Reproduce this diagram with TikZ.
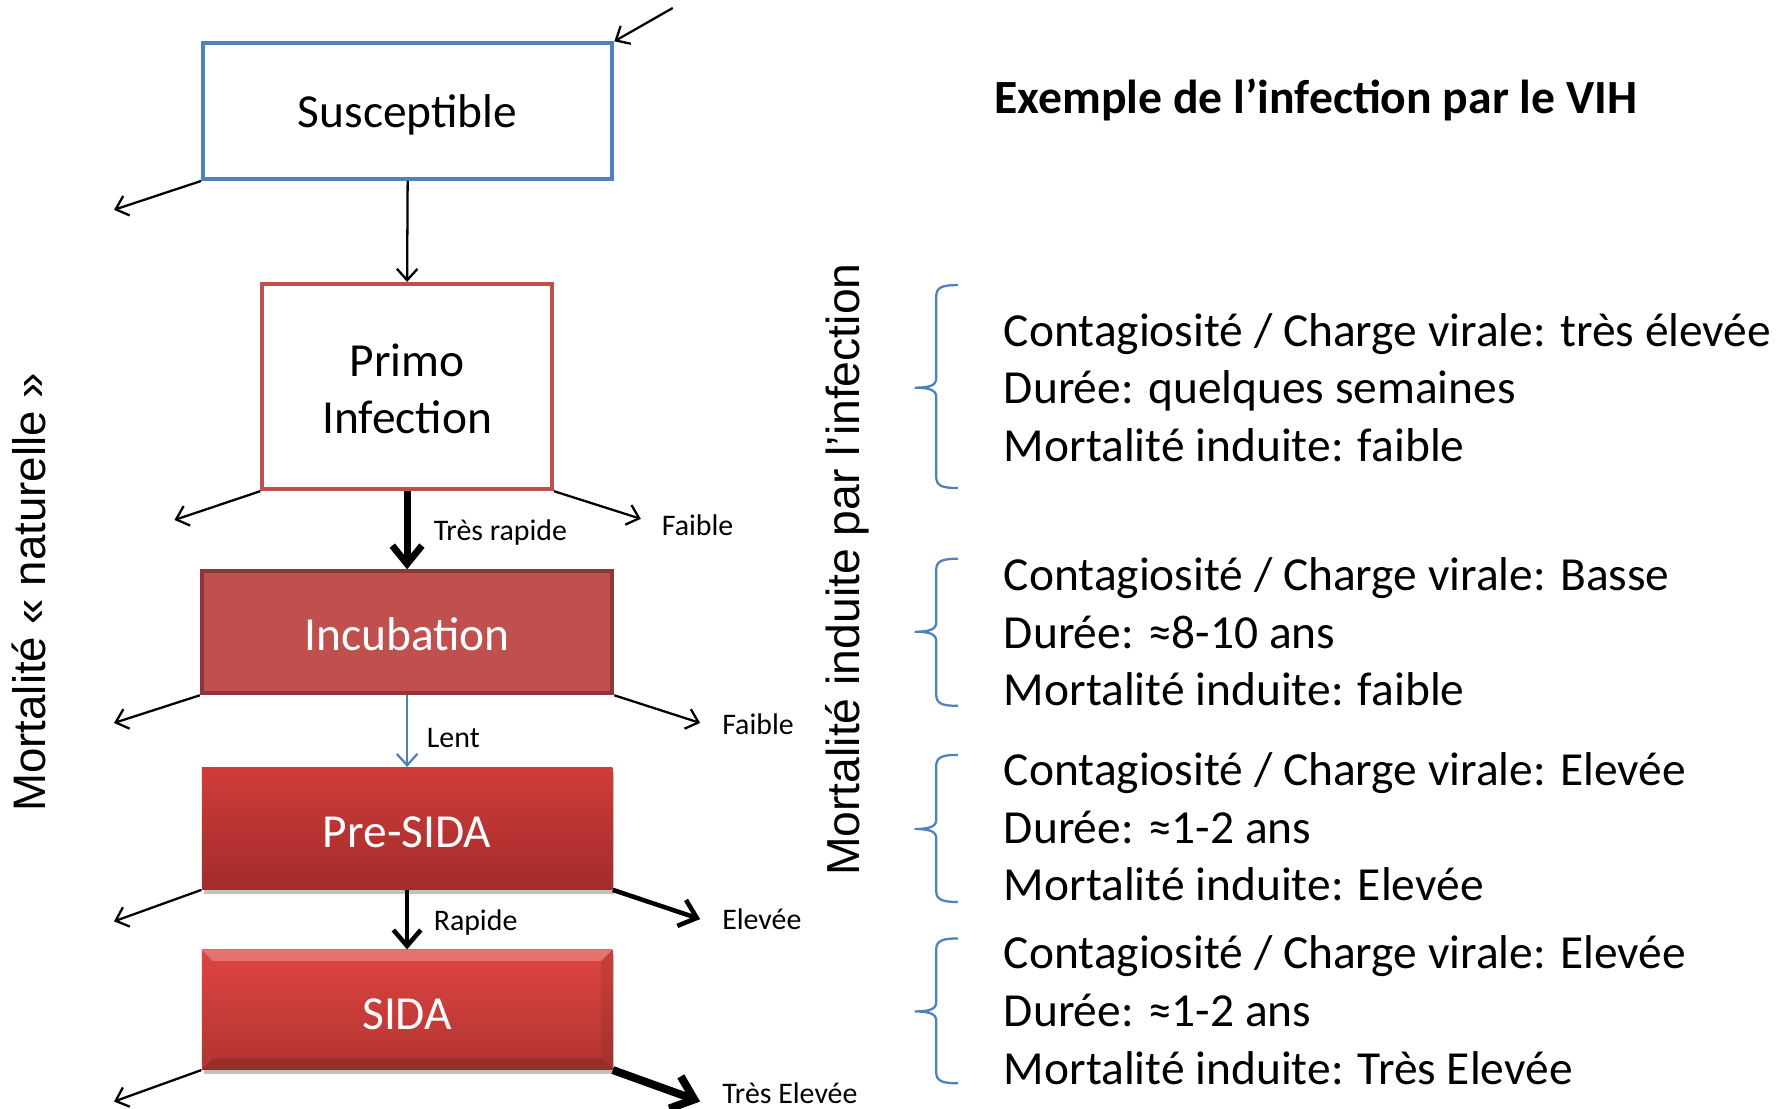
\documentclass[tikz,border=0pt]{standalone}
\usepackage{fontspec}
\setmainfont{Carlito}
\newfontfamily\sidefont{Liberation Sans}
\usetikzlibrary{arrows.meta,shadows}

\definecolor{boxblue}{HTML}{4F81BD}
\definecolor{boxred}{HTML}{C0504D}
\definecolor{incubedge}{HTML}{8C3836}
\definecolor{pretop}{HTML}{CF3D3A}
\definecolor{prebot}{HTML}{A32B2B}
\definecolor{sidatop}{HTML}{DD4541}
\definecolor{sidabot}{HTML}{B23431}

\begin{document}
\begin{tikzpicture}[x=0.5pt,y=-0.5pt,
  big/.style={font=\fontsize{20.8}{25.3}\selectfont},
  stage/.style={rectangle, inner sep=0pt},
  stagetext/.style={inner sep=0pt, align=center, big},
  lbl/.style={anchor=west, inner sep=0pt, font=\fontsize{13.1}{15}\selectfont},
  thinflow/.style={line width=1pt, -{Straight Barb[length=5pt,width=9pt]}},
  midflow/.style={line width=2pt, -{Straight Barb[length=7pt,width=12pt]}},
  heavyflow/.style={line width=3pt, -{Straight Barb[length=8pt,width=13pt]}},
  hugeflow/.style={line width=3.5pt, -{Straight Barb[length=9pt,width=15pt]}},
  curly/.style={draw=boxblue, line width=1pt},
  info/.style={anchor=west, inner sep=0pt, align=left, big},
  softshadow/.style={drop shadow={shadow xshift=0.8pt, shadow yshift=-2pt, opacity=0.35, fill=black!70}}
]
\useasboundingbox (0,0) rectangle (1568,972);

% compartments
\node[stage, draw=boxblue, line width=1.75pt, minimum width=179.5pt, minimum height=59.5pt]
  (sus) at (357.5,97.5) {};
\node[stage, draw=boxred, line width=1.75pt, minimum width=127pt, minimum height=90pt]
  (pri) at (357,339) {};
\node[stage, fill=boxred, draw=incubedge, line width=1.75pt, minimum width=180pt, minimum height=53.5pt]
  (inc) at (357,554.5) {};
\node[stage, softshadow, top color=pretop, bottom color=prebot, minimum width=180pt, minimum height=53.5pt]
  (pre) at (357,726.5) {};
\node[stage, softshadow, top color=sidatop, bottom color=sidabot, minimum width=180pt, minimum height=52.5pt]
  (sida) at (357,885.5) {};
% bevel edges of the last box
\fill[white, opacity=0.25] (sida.north west) -- (sida.north east) -- ([xshift=-5pt,yshift=-5pt]sida.north east) -- ([xshift=5pt,yshift=-5pt]sida.north west) -- cycle;
\fill[black, opacity=0.15] (sida.south west) -- (sida.south east) -- ([xshift=-5pt,yshift=5pt]sida.south east) -- ([xshift=5pt,yshift=5pt]sida.south west) -- cycle;
\fill[black, opacity=0.08] (sida.south east) -- (sida.north east) -- ([xshift=-5pt,yshift=-5pt]sida.north east) -- ([xshift=-5pt,yshift=5pt]sida.south east) -- cycle;

% compartment names
\node[stagetext] (sustxt) at ([yshift=-1.8pt]sus.center) {Susceptible};
\node[stagetext] (pritxt) at ([yshift=-1pt]pri.center) {Primo\\Infection};
\node[stagetext, text=white] (inctxt) at ([yshift=-1pt]inc.center) {Incubation};
\node[stagetext, text=white] (pretxt) at ([yshift=-1.5pt]pre.center) {Pre-SIDA};
\node[stagetext, text=white] (sidatxt) at ([yshift=-1.8pt]sida.center) {SIDA};

% free ends of the flows
\coordinate (inflow) at (590,7);
\coordinate (susout) at (100,184);
\coordinate (priout) at (153,456);
\coordinate (pridie) at (562,455);
\coordinate (incout) at (100,634);
\coordinate (incdie) at (614,634);
\coordinate (preout) at (100,808);
\coordinate (predie) at (614,806);
\coordinate (sidaout) at (100,966);
\coordinate (sidadie) at (614,966);

% flows
\draw[thinflow] (inflow) -- (sus.north east);
\draw[thinflow] (sus.south west) -- (susout);
\draw[thinflow] (sus.south) -- (pri.north);
\draw[thinflow] (pri.south west) -- (priout);
\draw[thinflow] (pri.south east) -- (pridie);
\draw[heavyflow] (pri.south) -- (inc.north);
\draw[thinflow] (inc.south west) -- (incout);
\draw[thinflow] (inc.south east) -- (incdie);
\draw[thinflow, draw=boxblue] (inc.south) -- (pre.north);
\draw[thinflow] (pre.south west) -- (preout);
\draw[midflow] (pre.south east) -- (predie);
\draw[midflow] (pre.south) -- (sida.north);
\draw[thinflow] (sida.south west) -- (sidaout);
\draw[hugeflow] (sida.south east) -- (sidadie);

% flow labels
\node[lbl] (l1) at (380,467) {Très rapide};
\node[lbl] (l2) at (580,461) {Faible};
\node[lbl] (l3) at (374,647) {Lent};
\node[lbl] (l4) at (633,635) {Faible};
\node[lbl] (l5) at (380,809) {Rapide};
\node[lbl] (l6) at (633,806) {Elevée};
\node[lbl] (l7) at (633,959) {Très Elevée};

% side titles
\node[rotate=90, inner sep=0pt, font=\sidefont\fontsize{20}{24}\selectfont] (natm) at (25,519.5) {Mortalité « naturelle »};
\node[rotate=90, inner sep=0pt, font=\sidefont\fontsize{20.3}{24}\selectfont] (infm) at (743,499.5) {Mortalité induite par l’infection};

% title
\node[font=\bfseries\fontsize{20.9}{25.3}\selectfont, inner sep=0pt] (title) at (1154,88) {Exemple de l’infection par le VIH};

% braces
\foreach \t/\m/\b in {250/340/428, 490/554/619, 662/727/791, 823/887/950}{
  \draw[curly] (840,\t) .. controls (826,\t) and (821,\t+2) .. (821,\t+10)
    -- (821,\m-8) .. controls (821,\m-2) and (815,\m) .. (802,\m)
    .. controls (815,\m) and (821,\m+2) .. (821,\m+8)
    -- (821,\b-10) .. controls (821,\b-2) and (826,\b) .. (840,\b);
}

% stage descriptions
\node[info] (d1) at (880,340) {Contagiosité / Charge virale: très élevée\\Durée: quelques semaines\\Mortalité induite: faible};
\node[info] (d2) at (880,554) {Contagiosité / Charge virale: Basse\\Durée: ≈8-10 ans\\Mortalité induite: faible};
\node[info] (d3) at (880,725) {Contagiosité / Charge virale: Elevée\\Durée: ≈1-2 ans\\Mortalité induite: Elevée};
\node[info] (d4) at (880,886) {Contagiosité / Charge virale: Elevée\\Durée: ≈1-2 ans\\Mortalité induite: Très Elevée};
\end{tikzpicture}
\end{document}
